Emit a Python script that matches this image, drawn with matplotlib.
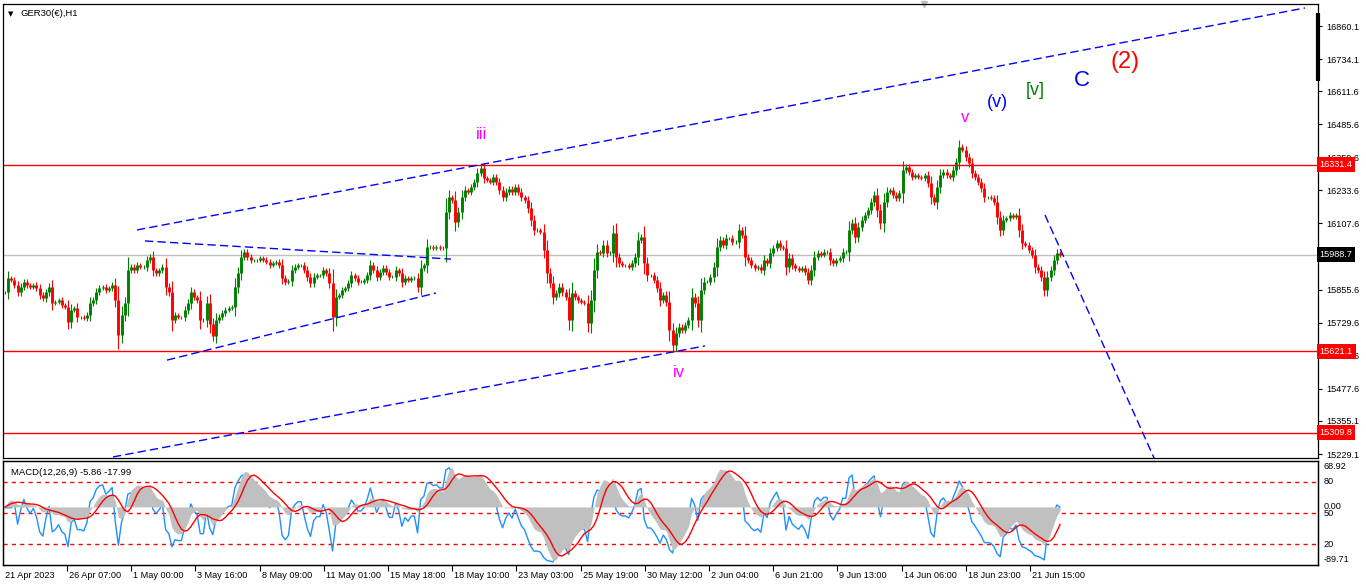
import numpy as np
import pandas as pd
import matplotlib
matplotlib.use("Agg")
import matplotlib.pyplot as plt
import matplotlib.transforms as mtransforms

plt.rcParams['font.family'] = ['Liberation Sans', 'DejaVu Sans']

# GER30 H1 closes, one value for roughly every 3 hourly bars
closes_late_apr = [15846, 15900, 15892, 15873, 15846, 15866, 15885, 15873, 15866, 15873,
                   15862, 15835, 15824, 15846, 15866, 15804, 15808, 15816, 15797, 15789,
                   15732, 15778, 15785, 15751, 15751, 15747, 15759, 15804, 15816, 15846,
                   15862, 15866, 15854, 15862, 15873, 15816, 15683, 15759, 15804, 15930,
                   15942, 15930, 15949, 15942, 15942, 15968, 15980, 15930, 15919, 15930,
                   15942, 15866, 15846, 15740, 15759, 15751, 15751, 15778, 15804, 15846,
                   15827, 15816, 15740, 15740, 15804, 15725, 15680, 15740, 15751, 15766,
                   15778, 15785, 15789, 15866, 15919, 15980, 15999, 15980, 15968, 15968,
                   15968, 15976, 15970, 15962]
closes_mid_may = [15949, 15957, 15961, 15949, 15900, 15885, 15890, 15930, 15942, 15949,
                  15949, 15930, 15904, 15881, 15904, 15911, 15911, 15930, 15919, 15881,
                  15751, 15827, 15835, 15854, 15862, 15881, 15911, 15900, 15885, 15885,
                  15892, 15911, 15949, 15930, 15904, 15923, 15938, 15923, 15904, 15904,
                  15930, 15919, 15885, 15900, 15892, 15900, 15900, 15866, 15938, 15949,
                  16018, 16018, 16014, 16018, 16014, 16014, 16151, 16208, 16197, 16113,
                  16151, 16208, 16235, 16228, 16247, 16266, 16300, 16319, 16281, 16273,
                  16266, 16285, 16266, 16235, 16208, 16228, 16240, 16228, 16247, 16228,
                  16208, 16197, 16166, 16121, 16083, 16083]
closes_late_may = [16075, 16007, 15919, 15881, 15827, 15843, 15866, 15846, 15827, 15740,
                   15843, 15827, 15816, 15808, 15804, 15728, 15816, 15930, 15999, 15995,
                   16026, 15995, 15995, 16071, 15980, 15957, 15949, 15949, 15942, 15957,
                   15980, 16045, 16056, 15957, 15911, 15911, 15892, 15862, 15816, 15835,
                   15808, 15702, 15645, 15690, 15713, 15702, 15721, 15740, 15827, 15804,
                   15740, 15854, 15885, 15885, 15904, 15942, 16018, 16045, 16026, 16052,
                   16052, 16037, 16037, 16083, 16064, 15980, 15968, 15949, 15938, 15942,
                   15930, 15968, 15957, 15995, 16014, 16033, 16018, 16014, 15942, 15976,
                   15949, 15938, 15930]
closes_june = [15938, 15923, 15892, 15930, 15980, 15995, 15988, 15999, 15999, 15968,
               15957, 15968, 15976, 15999, 15999, 16083, 16109, 16056, 16094, 16121,
               16140, 16159, 16189, 16216, 16159, 16109, 16189, 16228, 16235, 16216,
               16205, 16224, 16311, 16323, 16304, 16285, 16292, 16285, 16281, 16292,
               16262, 16208, 16189, 16247, 16292, 16304, 16292, 16285, 16311, 16342,
               16399, 16388, 16361, 16338, 16300, 16285, 16266, 16243, 16208, 16208,
               16205, 16189, 16132, 16083, 16121, 16128, 16140, 16132, 16140, 16083,
               16033, 16026, 16007, 15988, 15942, 15930, 15904, 15854, 15904, 15930,
               15968, 15995, 15988.7]

price_ticks = [16860.1, 16734.1, 16611.6, 16485.6, 16359.6, 16233.6, 16107.6,
               15855.6, 15729.6, 15603.6, 15477.6, 15355.1, 15229.1]
level_lines = [16331.4, 15621.1, 15309.8]
bid_price = 15988.7

time_labels = ["26 Apr 07:00", "1 May 00:00", "3 May 16:00", "8 May 09:00", "11 May 01:00",
               "15 May 18:00", "18 May 10:00", "23 May 03:00", "25 May 19:00", "30 May 12:00",
               "2 Jun 04:00", "6 Jun 21:00", "9 Jun 13:00", "14 Jun 06:00", "18 Jun 23:00",
               "21 Jun 15:00"]

# wave counts: label, bar, price, colour, size
waves = [("iii", 477, 16445, "#ff00ff", 12),
         ("iv", 674, 15541, "#ff00ff", 12),
         ("v", 960, 16510, "#ff00ff", 12),
         ("(v)", 992, 16570, "#0000ff", 13),
         ("[v]", 1030, 16616, "#008000", 13),
         ("C", 1077, 16654, "#0000ff", 16),
         ("(2)", 1120, 16723, "#ff0000", 17)]

# drawn trend lines (bar, price) -> (bar, price)
trendlines = [((132, 16083), (1300, 16929)),
              ((108, 15218), (700, 15641)),
              ((140, 16041), (446, 15972)),
              ((162, 15587), (431, 15843)),
              ((1040, 16140), (1150, 15206))]

closes = np.array(closes_late_apr + closes_mid_may + closes_late_may + closes_june, dtype=float)
n_bars = 1055
xs = np.linspace(0, n_bars, len(closes))
opens = np.r_[closes[0], closes[:-1]]
body = np.abs(closes - opens)
highs = np.maximum(opens, closes) + 0.35 * body + 6
lows = np.minimum(opens, closes) - 0.35 * body - 6
cols = np.where(closes >= opens, "#008000", "#ff0000")

W, H = 1366, 588
fig = plt.figure(figsize=(W / 100, H / 100), dpi=100, facecolor="white")
ax = fig.add_axes([3 / W, 1 - 458 / H, 1315 / W, 454 / H])
axm = fig.add_axes([3 / W, 1 - 565 / H, 1315 / W, 104 / H])

xlim = (-2, 1313)

# price panel
ax.set_xlim(*xlim)
ax.set_ylim(15214, 16944)
for lv in level_lines:
    ax.axhline(lv, color="#ff0000", lw=1, zorder=1)
ax.axhline(bid_price, color="#c0c0c0", lw=1, zorder=1)
ax.vlines(xs, lows, highs, colors=cols, lw=0.8, zorder=2)
ax.vlines(xs, np.minimum(opens, closes), np.maximum(opens, closes), colors=cols,
          lw=2.1, zorder=2)

for (x0, y0), (x1, y1) in trendlines:
    ax.plot([x0, x1], [y0, y1], color="#0000ff", lw=1, ls=(0, (6, 3)), zorder=3)

for txt, bx, py, c, fs in waves:
    ax.text(bx, py, txt, color=c, fontsize=fs, ha="center", va="center", zorder=4)

ax.set_xticks([])
ax.yaxis.tick_right()
ax.set_yticks(price_ticks)
ax.set_yticklabels([f"{v:.1f}" for v in price_ticks], fontsize=6.6)
ax.tick_params(axis="y", direction="out", length=3, pad=3, width=0.8)
for s in ax.spines.values():
    s.set_linewidth(0.9)

tr = mtransforms.blended_transform_factory(ax.transAxes, ax.transData)
for lv in level_lines:
    ax.text(1.0012, lv, f"{lv:.1f}", transform=tr, color="white", fontsize=6.6,
            va="center", ha="left", zorder=6,
            bbox=dict(facecolor="#ff0000", edgecolor="none", pad=2.2))
ax.text(1.0012, bid_price, f"{bid_price:.1f}", transform=tr, color="white", fontsize=6.6,
        va="center", ha="left", zorder=6,
        bbox=dict(facecolor="black", edgecolor="none", pad=2.2))

ax.text(0.004, 0.985, "\u25bc", transform=ax.transAxes, fontsize=5, va="top", ha="left",
        family="DejaVu Sans")
ax.text(0.013, 0.988, "GER30(\u20ac),H1", transform=ax.transAxes, fontsize=6.8,
        va="top", ha="left")
ax.plot([1.0, 1.0], [0.98, 0.83], transform=ax.transAxes, color="black", lw=3,
        clip_on=False, solid_capstyle="butt")
ax.plot([921 / 1315], [1.0], transform=ax.transAxes, marker="v", color="#c0c0c0",
        markersize=5, clip_on=False)

# MACD panel
s = pd.Series(closes)
macd = s.ewm(span=5, adjust=False).mean() - s.ewm(span=11, adjust=False).mean()
signal = macd.rolling(4, min_periods=1).mean().ewm(span=2, adjust=False).mean()
delta = s.diff().fillna(0)
gain = delta.clip(lower=0).ewm(alpha=1 / 6, adjust=False).mean()
loss = (-delta.clip(upper=0)).ewm(alpha=1 / 6, adjust=False).mean()
rsi = (100 - 100 / (1 + gain / loss.replace(0, np.nan))).fillna(50)
rsi.iloc[:3] = 55

axm.set_xlim(*xlim)
axm.set_ylim(-100, 79)
axm.fill_between(xs, 0, macd, color="#c0c0c0", lw=0, zorder=1)
axr = axm.twinx()
axr.set_ylim(0, 100)
for lv in (80, 50, 20):
    axr.axhline(lv, color="#ff0000", lw=1, ls=(0, (3, 3)), zorder=1)
axr.plot(xs, rsi, color="#1e90ff", lw=1, zorder=2)
axm.plot(xs, signal, color="#ff0000", lw=1, zorder=3)
axm.set_zorder(axr.get_zorder() + 1)
axm.patch.set_visible(False)

axr.set_yticks([])
axm.set_yticks([])
for a in (axm, axr):
    for sp in a.spines.values():
        sp.set_linewidth(0.9)

trm = mtransforms.blended_transform_factory(axm.transAxes, axm.transData)
for val, txt in ((68.92, "68.92"), (0.0, "0.00"), (-89.71, "-89.71")):
    axm.text(1.004, val, txt, transform=trm, fontsize=6.6, va="center", ha="left", clip_on=False)
for val in (80, 50, 20):
    axm.text(1.004, val / 100 * 179 - 100, str(val), transform=trm, fontsize=6.6,
             va="center", ha="left", clip_on=False)
axm.text(0.006, 0.93, "MACD(12,26,9) -5.86 -17.99", transform=axm.transAxes,
         fontsize=6.8, va="top", ha="left")

tick_pos = [62 + 64.2 * i for i in range(len(time_labels))]
axm.set_xticks(tick_pos)
axm.set_xticklabels([])
axm.tick_params(axis="x", direction="out", length=4, width=0.8)
trx = mtransforms.blended_transform_factory(axm.transData, axm.transAxes)
axm.text(0, -0.06, "21 Apr 2023", transform=trx, fontsize=6.6, va="top", ha="left")
for p, lab in zip(tick_pos, time_labels):
    axm.text(p + 2, -0.06, lab, transform=trx, fontsize=6.6, va="top", ha="left")

fig.savefig("out.png", dpi=100, facecolor="white")
